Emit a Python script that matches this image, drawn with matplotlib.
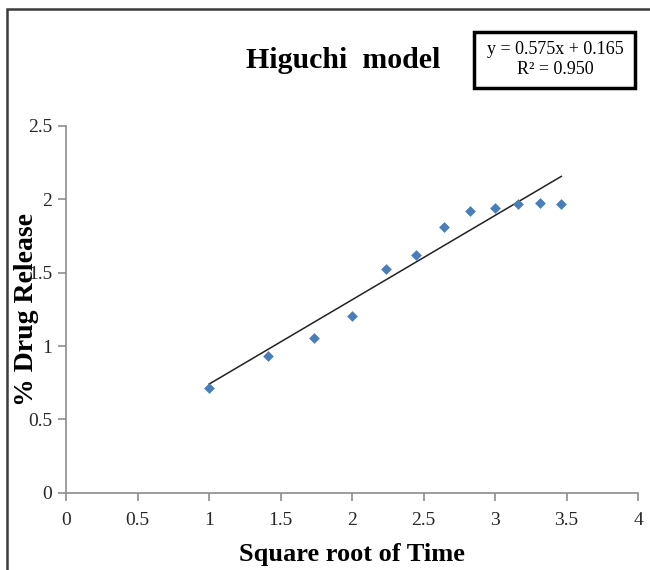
import numpy as np
import matplotlib
matplotlib.use('Agg')
import matplotlib.pyplot as plt
from matplotlib.patches import Rectangle

# data
sqrt_time = [1.0, 1.414, 1.732, 2.0, 2.236, 2.449, 2.646, 2.828, 3.0, 3.162, 3.317, 3.464]
release = [0.712, 0.932, 1.052, 1.207, 1.525, 1.620, 1.809, 1.920, 1.943, 1.966, 1.977, 1.966]
slope = 0.575
intercept = 0.165
r2 = 0.950

xticks = [0, 0.5, 1, 1.5, 2, 2.5, 3, 3.5, 4]
yticks = [0, 0.5, 1, 1.5, 2, 2.5]

plt.rcParams['font.family'] = ['Liberation Serif', 'DejaVu Serif']

W, H = 650, 570
fig = plt.figure(figsize=(W/100, H/100), dpi=100)
fig.patch.set_facecolor('white')

# outer chart border (runs off right/bottom edge)
fig.add_artist(Rectangle((7/W, -0.05), 1.1, 1 - 9/H + 0.05, transform=fig.transFigure,
                         fill=False, edgecolor='#3a3a3a', linewidth=1.8))

ax = fig.add_axes([66/W, 1 - 492.7/H, (638-66)/W, (492.7-126)/H])

ax.scatter(sqrt_time, release, marker='D', s=30, color='#4a7ebb', zorder=3, linewidths=0)
xl = np.array([min(sqrt_time), max(sqrt_time)])
ax.plot(xl, slope*xl + intercept, color='#222222', linewidth=1.1, zorder=2)

ax.set_xlim(0, 4)
ax.set_ylim(0, 2.5)
ax.set_xticks(xticks)
ax.set_xticklabels([f'{t:g}' for t in xticks])
ax.set_yticks(yticks)
ax.set_yticklabels([f'{t:g}' for t in yticks])

for s in ['top', 'right']:
    ax.spines[s].set_visible(False)
for s in ['left', 'bottom']:
    ax.spines[s].set_color('#8c8c8c')
    ax.spines[s].set_linewidth(1.2)
ax.tick_params(axis='both', colors='#8c8c8c', length=6, width=1.2, labelsize=14,
               labelcolor='#262626')
ax.tick_params(axis='x', pad=8)
ax.tick_params(axis='y', pad=4)

ax.set_xlabel('Square root of Time', fontsize=19, fontweight='bold', labelpad=10)
ax.set_ylabel('% Drug Release', fontsize=20, fontweight='bold')
ax.yaxis.set_label_coords(-27/572, 0.5)

fig.text(343/W, 1 - 68/H, 'Higuchi  model', fontsize=21.5, fontweight='bold',
         ha='center', va='baseline')

# equation box
fig.add_artist(Rectangle((474/W, 1 - 88/H), (635-474)/W, (88-32)/H, transform=fig.transFigure,
                         fill=False, edgecolor='black', linewidth=2.5))
fig.text(555/W, 1 - 50/H, f'y = {slope:.3f}x + {intercept:.3f}', fontsize=13,
         ha='center', va='center')
fig.text(555/W, 1 - 70/H, f'R² = {r2:.3f}', fontsize=13, ha='center', va='center')

fig.savefig('out.png', dpi=100)
